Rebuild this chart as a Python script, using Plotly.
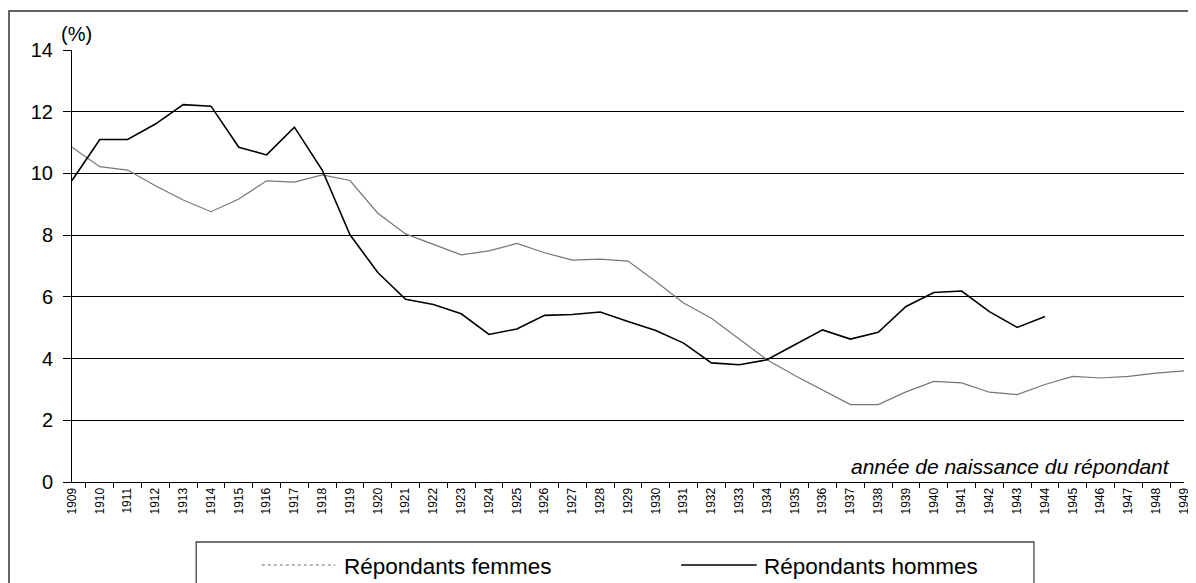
import plotly.graph_objects as go

# années de naissance (catégories de l'axe x)
annees = [str(a) for a in range(1909, 1950)]

# pourcentages
femmes = [10.85, 10.22, 10.11, 9.6, 9.14, 8.76, 9.17, 9.76, 9.72, 9.95,
          9.77, 8.71, 8.04, 7.71, 7.36, 7.49, 7.73, 7.43, 7.19, 7.22,
          7.16, 6.5, 5.8, 5.31, 4.64, 3.96, 3.45, 2.97, 2.51, 2.51,
          2.92, 3.26, 3.21, 2.91, 2.83, 3.16, 3.42, 3.37, 3.42, 3.53,
          3.6]
hommes = [9.77, 11.1, 11.1, 11.6, 12.23, 12.18, 10.85, 10.6, 11.5, 10.11,
          8.01, 6.79, 5.92, 5.75, 5.45, 4.78, 4.96, 5.4, 5.43, 5.51,
          5.2, 4.91, 4.5, 3.86, 3.8, 3.96, 4.45, 4.93, 4.63, 4.85,
          5.69, 6.14, 6.19, 5.52, 5.01, 5.36]

y_ticks = [0, 2, 4, 6, 8, 10, 12, 14]

FONT = "Liberation Sans, Arial, sans-serif"

# la page HTML ajoute une marge de 8 px autour de la figure
OFF = 8
W, H = 1196 - OFF, 583 - OFF
L, T = 72 - OFF, 50 - OFF
R = W - (1191 - OFF)
B = H - (482 - OFF)
PW, PH = W - L - R, H - T - B


def px(x):
    """position horizontale dans la page -> coordonnée paper"""
    return (x - OFF - L) / PW


def py(y):
    """position verticale dans la page -> coordonnée paper"""
    return (H - B - (y - OFF)) / PH


fig = go.Figure()
fig.add_trace(go.Scatter(
    x=annees, y=femmes, mode="lines", name="Répondants femmes",
    line=dict(color="#767676", width=1.2),
))
fig.add_trace(go.Scatter(
    x=annees[:len(hommes)], y=hommes, mode="lines", name="Répondants hommes",
    line=dict(color="black", width=1.6),
))

shapes = [
    # cadre extérieur du graphique
    dict(type="rect", xref="paper", yref="paper",
         x0=px(8.6), x1=px(1230), y0=py(11), y1=py(640),
         line=dict(color="#333", width=1.5), layer="below"),
    # cadre de la légende
    dict(type="rect", xref="paper", yref="paper",
         x0=px(197), x1=px(1040), y0=py(542), y1=py(660),
         line=dict(color="#444", width=1.3)),
    # échantillons de la légende
    dict(type="line", xref="paper", yref="paper",
         x0=px(263), x1=px(337), y0=py(565), y1=py(565),
         line=dict(color="#707070", width=1.2, dash="dot")),
    dict(type="line", xref="paper", yref="paper",
         x0=px(685), x1=px(761), y0=py(565), y1=py(565),
         line=dict(color="black", width=1.4)),
]

annotations = [
    dict(text="(%)", xref="paper", yref="paper", x=px(59), y=py(33.5),
         xanchor="left", yanchor="middle", showarrow=False,
         font=dict(family=FONT, size=20, color="black")),
    dict(text="<i>année de naissance du répondant</i>", xref="paper", yref="paper",
         x=px(1179), y=py(466), xanchor="right", yanchor="middle", showarrow=False,
         font=dict(family=FONT, size=21, color="black")),
    dict(text="Répondants femmes", xref="paper", yref="paper",
         x=px(344), y=py(566), xanchor="left", yanchor="middle", showarrow=False,
         font=dict(family=FONT, size=22.5, color="black")),
    dict(text="Répondants hommes", xref="paper", yref="paper",
         x=px(766), y=py(566), xanchor="left", yanchor="middle", showarrow=False,
         font=dict(family=FONT, size=22.5, color="black")),
]

fig.update_layout(
    width=W, height=H,
    margin=dict(l=L, r=R, t=T, b=B, pad=0),
    paper_bgcolor="white", plot_bgcolor="white",
    showlegend=False,
    font=dict(family=FONT, color="black"),
    xaxis=dict(
        type="category", categoryorder="array", categoryarray=annees,
        showgrid=False, showline=True, linecolor="black", linewidth=1,
        ticks="outside", tickson="boundaries", ticklen=5, tickcolor="black",
        tickangle=-90, tickfont=dict(family=FONT, size=12, color="black"),
        fixedrange=True,
    ),
    yaxis=dict(
        range=[0, 14], tickvals=y_ticks,
        showgrid=True, gridcolor="black", gridwidth=1,
        showline=True, linecolor="black", linewidth=1,
        ticks="outside", ticklen=8, tickcolor="black",
        ticklabelstandoff=6,
        tickfont=dict(family=FONT, size=20, color="black"),
        zeroline=False, fixedrange=True,
    ),
    shapes=shapes,
    annotations=annotations,
)

fig.write_html("out.html")
